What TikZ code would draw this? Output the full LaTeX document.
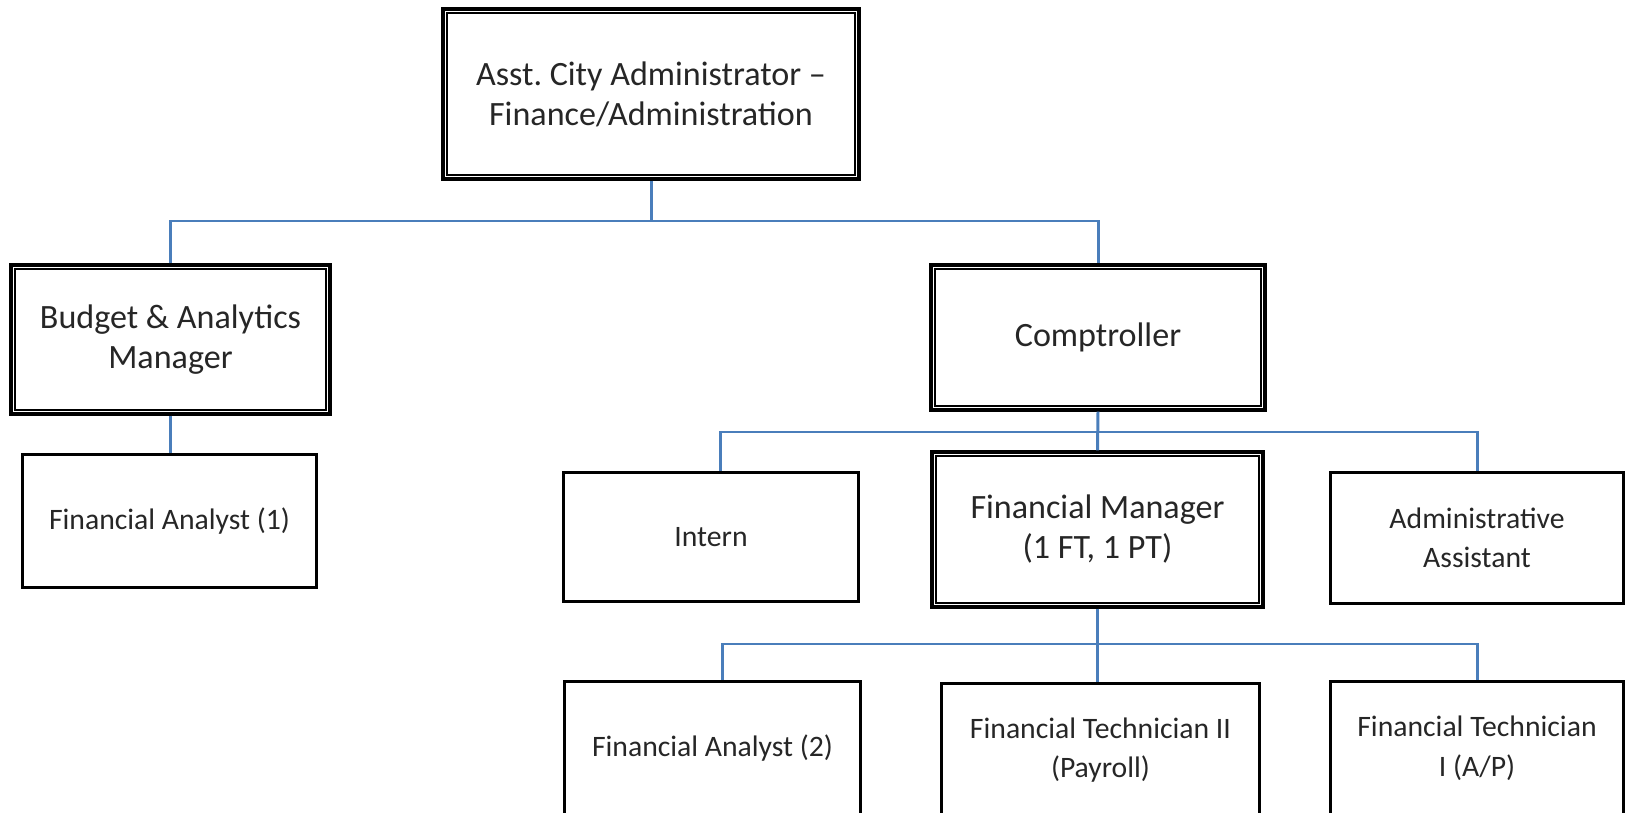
\documentclass[tikz,border=0pt]{standalone}
\usepackage{fontspec}
\setmainfont{Carlito}
\usepackage{tikz}
\definecolor{linkblue}{RGB}{74,126,187}
\frenchspacing

\begin{document}
\begin{tikzpicture}[x=0.02cm, y=0.02cm,
        post/.style={draw, line width=1.8pt, align=center, inner sep=0pt, text=black!85, font=\fontsize{19.4}{22.8}\selectfont},
        seat/.style={draw, line width=1.7pt, align=center, inner sep=0pt, text=black!85, font=\fontsize{16.9}{22.5}\selectfont},
        link/.style={draw=linkblue, line width=1.7pt}]
        \useasboundingbox (0,0) rectangle (1626,-813);
        \node[post, minimum width=8.32cm, minimum height=3.40cm] (top) at (651,-94) {Asst. City Administrator --\\Finance/Administration};
        \node[post, minimum width=6.38cm, minimum height=2.98cm] (budget) at (170.5,-339.5) {Budget \& Analytics\\Manager};
        \node[seat, minimum width=5.90cm, minimum height=2.68cm] (fa1) at (169.5,-521) {Financial Analyst (1)};
        \node[post, minimum width=6.68cm, minimum height=2.90cm] (comp) at (1098,-337.5) {Comptroller};
        \node[seat, minimum width=5.92cm, minimum height=2.60cm] (intern) at (711,-537) {Intern};
        \node[post, minimum width=6.62cm, minimum height=3.10cm] (fm) at (1097.5,-529.5) {Financial Manager\\(1 FT, 1 PT)};
        \node[seat, minimum width=5.88cm, minimum height=2.64cm] (aa) at (1477,-538) {Administrative\\Assistant};
        \node[seat, minimum width=5.94cm, minimum height=2.68cm] (fa2) at (712.5,-748) {Financial Analyst (2)};
        \node[seat, minimum width=6.38cm, minimum height=2.68cm] (ft2) at (1100.5,-750) {Financial Technician II\\(Payroll)};
        \node[seat, minimum width=5.88cm, minimum height=2.68cm] (ft1) at (1477,-748) {Financial Technician\\I (A/P)};
        \foreach \n in {top,budget,comp,fm}
            \draw[line width=0.9pt] ([shift={(5.5,-5.5)}]\n.north west) rectangle ([shift={(-5.5,5.5)}]\n.south east);
        \coordinate (bus1) at (651,-221);
        \coordinate (bus2) at (1098,-432);
        \coordinate (bus3) at (1099,-644);
        \draw[link] (top.south) -- (bus1);
        \draw[link] (budget.north) |- (bus1) -| (comp.north);
        \draw[link] (budget.south) -- (budget.south |- fa1.north);
        \draw[link] (comp.south) -- (fm.north);
        \draw[link] ([xshift=0.18cm]intern.north) |- (bus2) -| (aa.north);
        \draw[link] (fm.south) -- (fm.south |- ft2.north);
        \draw[link] ([xshift=0.2cm]fa2.north) |- (bus3) -| (ft1.north);
    \end{tikzpicture}
\end{document}
